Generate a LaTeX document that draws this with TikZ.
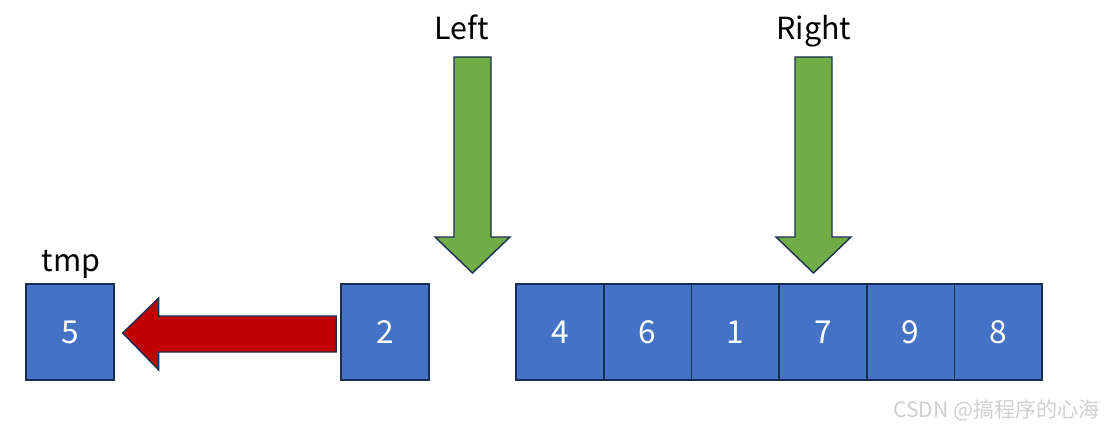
\documentclass[tikz,border=0pt]{standalone}
\usepackage{fontspec}
\setmainfont{Noto Sans CJK SC}
\usepackage{tikz}
\usetikzlibrary{calc}
\definecolor{cellblue}{HTML}{4472C4}
\definecolor{edgeblue}{HTML}{1A2E52}
\definecolor{ptrgreen}{HTML}{70AD47}
\definecolor{movered}{HTML}{C00000}
\definecolor{markgray}{HTML}{CFCFCF}
\tikzstyle{cell}=[rectangle, draw=edgeblue, fill=cellblue, line width=1.5pt, minimum width=2.63cm, minimum height=2.88cm, inner sep=0pt, text=white, font=\fontsize{27}{30}\selectfont]
\tikzstyle{lbl}=[inner sep=0pt, font=\fontsize{26}{30}\selectfont]
\tikzstyle{pointer}=[draw=edgeblue, fill=ptrgreen, line width=1.2pt, line join=miter]
\tikzstyle{move}=[draw=edgeblue, fill=movered, line width=1.2pt, line join=miter]

\begin{document}
\begin{tikzpicture}[x=0.03cm, y=-0.03cm]
				\useasboundingbox (0,0) rectangle (1105,429);
				
				\node[cell] (tmp) at (70,332) {5};
				\node[cell] (two) at (385,332) {2};
				\foreach \v [count=\i] in {4,6,1,7,9,8}
					\node[cell] (a\i) at ({559.85+87.7*(\i-1)},332) {\v};
				
				\node[lbl, anchor=base] (tmplbl) at (71,271) {tmp};
				\node[lbl, anchor=base] (left) at (462,40) {Left};
				\node[lbl, anchor=base] (right) at (814,40) {Right};
				
				% the two pointers
				\foreach \x in {472.5,813.5}
					\draw[pointer] (\x-18.5,57) -- (\x+18.5,57) -- (\x+18.5,237) -- (\x+37.5,237)
						-- (\x,273) -- (\x-37.5,237) -- (\x-18.5,237) -- cycle;
				
				% 2 goes into tmp
				\coordinate (src) at ($(two.west)+(-4,0)$);
				\coordinate (dst) at ($(tmp.east)+(8,1)$);
				\draw[move] ($(src)+(0,-16)$) -- ($(dst)+(36,-17)$) -- ($(dst)+(36,-35)$) -- (dst)
					-- ($(dst)+(36,37)$) -- ($(dst)+(36,19)$) -- ($(src)+(0,20)$) -- cycle;
				
				\node[anchor=east, text=markgray, inner sep=0pt, font=\fontsize{18}{20}\selectfont] (mark) at (1100,410) {CSDN @搞程序的心海};
			\end{tikzpicture}
\end{document}
